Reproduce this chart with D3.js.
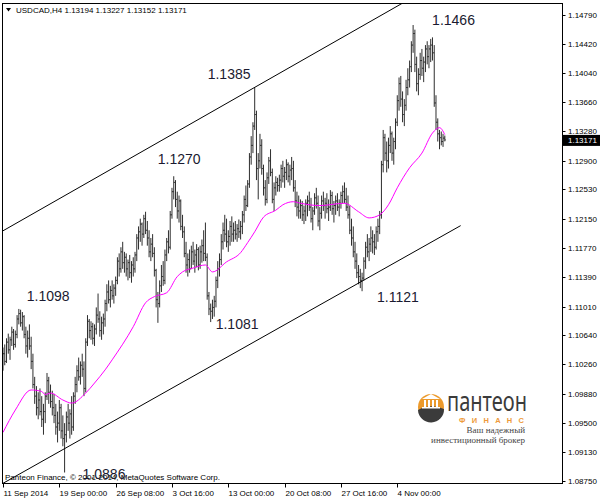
<!DOCTYPE html>
<html><head><meta charset="utf-8">
<script src="https://cdn.jsdelivr.net/npm/d3@7"></script>
<style>body{margin:0;background:#fff}svg{display:block}</style>
</head><body>
<svg id="c" width="600" height="500"></svg>
<script>
// ---------- DATA ----------
const opens = [1.1035,1.1040,1.1030,1.1055,1.1045,1.1058,1.1068,1.1052,1.1065,1.1085,1.1092,1.1080,1.1088,1.1065,1.1050,1.1060,1.1050,1.1030,1.1000,1.0985,
1.0970,1.0980,1.0965,1.0955,1.0965,1.0985,1.1005,1.0990,1.0978,1.0970,1.0960,1.0945,1.0950,1.0970,1.0940,1.0930,1.0935,1.0958,1.0950,1.0962,
1.0945,1.0985,1.1000,1.1018,1.1010,1.1025,1.1020,1.0995,1.1055,1.1082,1.1070,1.1075,1.1060,1.1072,1.1090,1.1085,1.1070,1.1080,1.1085,1.1105,
1.1120,1.1110,1.1122,1.1115,1.1125,1.1135,1.1160,1.1150,1.1172,1.1158,1.1165,1.1150,1.1158,1.1145,1.1155,1.1150,1.1168,1.1190,1.1198,1.1208,
1.1195,1.1215,1.1200,1.1190,1.1172,1.1182,1.1170,1.1148,1.1110,1.1105,1.1128,1.1140,1.1135,1.1168,1.1185,1.1178,1.1220,1.1250,1.1262,1.1240,
1.1225,1.1238,1.1205,1.1198,1.1170,1.1155,1.1162,1.1150,1.1172,1.1160,1.1168,1.1175,1.1155,1.1172,1.1180,1.1170,1.1165,1.1115,1.1098,1.1095,
1.1100,1.1108,1.1135,1.1150,1.1162,1.1185,1.1200,1.1195,1.1185,1.1192,1.1205,1.1195,1.1200,1.1195,1.1202,1.1198,1.1205,1.1220,1.1240,1.1232,
1.1260,1.1295,1.1310,1.1335,1.1350,1.1280,1.1290,1.1310,1.1280,1.1255,1.1240,1.1268,1.1290,1.1275,1.1240,1.1255,1.1262,1.1258,1.1265,1.1280,
1.1270,1.1275,1.1285,1.1270,1.1278,1.1280,1.1255,1.1238,1.1230,1.1225,1.1232,1.1220,1.1225,1.1235,1.1238,1.1230,1.1215,1.1225,1.1242,1.1235,
1.1212,1.1222,1.1238,1.1232,1.1235,1.1228,1.1230,1.1245,1.1228,1.1232,1.1238,1.1230,1.1235,1.1245,1.1250,1.1240,1.1230,1.1220,1.1200,1.1190,
1.1172,1.1160,1.1145,1.1140,1.1135,1.1138,1.1160,1.1178,1.1172,1.1182,1.1190,1.1185,1.1178,1.1198,1.1205,1.1220,1.1285,1.1320,1.1300,1.1290,
1.1310,1.1325,1.1300,1.1315,1.1340,1.1368,1.1390,1.1370,1.1350,1.1362,1.1385,1.1395,1.1412,1.1440,1.1455,1.1415,1.1390,1.1402,1.1420,1.1410,
1.1418,1.1435,1.1425,1.1435,1.1440,1.1430,1.1365,1.1340,1.1325,1.1320,1.1315,1.13194];
const highs = [1.1048,1.1052,1.1060,1.1066,1.1062,1.1075,1.1072,1.1070,1.1090,1.1098,1.1097,1.1094,1.1090,1.1075,1.1070,1.1078,1.1062,1.1040,1.1010,1.0998,
1.0990,1.0995,1.0985,1.0975,1.0990,1.1015,1.1010,1.1000,1.0992,1.0988,1.0975,1.0965,1.0980,1.0975,1.0960,1.0950,1.0965,1.0975,1.0968,1.0985,
1.0990,1.1010,1.1025,1.1035,1.1030,1.1040,1.1030,1.1060,1.1090,1.1085,1.1082,1.1080,1.1078,1.1100,1.1118,1.1095,1.1088,1.1092,1.1110,1.1130,
1.1135,1.1128,1.1135,1.1130,1.1140,1.1165,1.1170,1.1178,1.1185,1.1172,1.1170,1.1162,1.1168,1.1160,1.1165,1.1172,1.1195,1.1205,1.1215,1.1210,
1.1220,1.1224,1.1212,1.1200,1.1190,1.1195,1.1178,1.1150,1.1120,1.1135,1.1155,1.1160,1.1175,1.1190,1.1200,1.1225,1.1255,1.1270,1.1265,1.1250,
1.1245,1.1240,1.1220,1.1205,1.1185,1.1170,1.1175,1.1180,1.1185,1.1175,1.1182,1.1178,1.1180,1.1188,1.1200,1.1210,1.1170,1.1120,1.1105,1.1110,
1.1115,1.1140,1.1160,1.1170,1.1195,1.1210,1.1220,1.1215,1.1200,1.1212,1.1218,1.1210,1.1212,1.1208,1.1214,1.1212,1.1225,1.1245,1.1258,1.1265,
1.1300,1.1322,1.1340,1.1385,1.1355,1.1300,1.1325,1.1318,1.1285,1.1265,1.1275,1.1295,1.1305,1.1280,1.1262,1.1270,1.1268,1.1272,1.1285,1.1290,
1.1282,1.1292,1.1288,1.1285,1.1295,1.1290,1.1265,1.1250,1.1245,1.1240,1.1238,1.1232,1.1240,1.1245,1.1250,1.1242,1.1230,1.1248,1.1255,1.1245,
1.1230,1.1245,1.1250,1.1242,1.1248,1.1240,1.1252,1.1250,1.1238,1.1245,1.1248,1.1240,1.1250,1.1258,1.1262,1.1255,1.1245,1.1232,1.1215,1.1205,
1.1185,1.1170,1.1155,1.1150,1.1145,1.1165,1.1185,1.1195,1.1190,1.1205,1.1200,1.1195,1.1205,1.1215,1.1225,1.1290,1.1330,1.1325,1.1315,1.1320,
1.1335,1.1328,1.1320,1.1345,1.1375,1.1398,1.1400,1.1380,1.1370,1.1395,1.1410,1.1420,1.1445,1.1466,1.1460,1.1425,1.1410,1.1430,1.1435,1.1425,
1.1440,1.1445,1.1440,1.1448,1.1450,1.1440,1.1375,1.1345,1.1330,1.1328,1.1325,1.13227];
const lows = [1.1018,1.1025,1.1028,1.1040,1.1032,1.1050,1.1045,1.1048,1.1060,1.1078,1.1075,1.1070,1.1060,1.1040,1.1035,1.1045,1.1020,1.0995,1.0975,1.0960,
1.0955,1.0960,1.0945,1.0935,1.0950,1.0980,1.0975,1.0970,1.0960,1.0950,1.0935,1.0925,1.0940,1.0930,1.0920,1.0886,1.0925,1.0940,1.0930,1.0935,
1.0940,1.0975,1.0990,1.1005,1.1000,1.1010,1.0985,1.0990,1.1050,1.1060,1.1058,1.1052,1.1050,1.1065,1.1080,1.1062,1.1058,1.1065,1.1075,1.1095,
1.1105,1.1100,1.1110,1.1105,1.1115,1.1130,1.1140,1.1145,1.1150,1.1145,1.1140,1.1135,1.1138,1.1132,1.1140,1.1145,1.1160,1.1175,1.1185,1.1180,
1.1190,1.1195,1.1180,1.1165,1.1160,1.1165,1.1140,1.1100,1.1080,1.1100,1.1120,1.1128,1.1130,1.1160,1.1170,1.1175,1.1215,1.1240,1.1230,1.1215,
1.1210,1.1200,1.1190,1.1165,1.1145,1.1140,1.1145,1.1150,1.1155,1.1145,1.1152,1.1148,1.1150,1.1158,1.1160,1.1160,1.1110,1.1090,1.1081,1.1085,
1.1088,1.1100,1.1125,1.1140,1.1155,1.1175,1.1185,1.1178,1.1172,1.1180,1.1185,1.1185,1.1188,1.1185,1.1190,1.1188,1.1195,1.1210,1.1225,1.1230,
1.1255,1.1285,1.1300,1.1330,1.1265,1.1240,1.1280,1.1272,1.1245,1.1232,1.1235,1.1260,1.1270,1.1235,1.1225,1.1245,1.1250,1.1250,1.1255,1.1262,
1.1255,1.1265,1.1262,1.1258,1.1265,1.1250,1.1230,1.1218,1.1215,1.1215,1.1212,1.1208,1.1212,1.1218,1.1225,1.1210,1.1200,1.1220,1.1228,1.1205,
1.1200,1.1215,1.1225,1.1215,1.1222,1.1212,1.1225,1.1220,1.1210,1.1220,1.1225,1.1218,1.1228,1.1235,1.1235,1.1225,1.1215,1.1195,1.1180,1.1165,
1.1150,1.1138,1.1130,1.1125,1.1121,1.1135,1.1150,1.1165,1.1160,1.1172,1.1170,1.1168,1.1175,1.1185,1.1195,1.1215,1.1275,1.1290,1.1275,1.1280,
1.1300,1.1290,1.1285,1.1305,1.1335,1.1355,1.1360,1.1340,1.1335,1.1355,1.1375,1.1385,1.1405,1.1430,1.1405,1.1380,1.1375,1.1395,1.1400,1.1392,
1.1405,1.1415,1.1410,1.1418,1.1420,1.1360,1.1330,1.1315,1.1305,1.1310,1.1308,1.13152];
const closes = opens.slice(1).concat([1.13171]);

// moving average (magenta) at these bars
const maBars = [0,7,16,22,24,27,34,39,47,52,58,62,74,81,86,93,99,102,108,115,119,127,135,139,143,148,155,159,165,169,180,194,202,208,214,219,224,231,238,244,248,251];
const maValues = [1.0938,1.0967,1.0993,1.0991,1.0987,1.0989,1.0980,1.0976,1.0989,1.1002,1.1019,1.1032,1.1075,1.1106,1.1114,1.1119,1.1140,1.1146,1.1151,1.1155,1.1146,1.1159,1.1171,1.1184,1.1198,1.1217,1.1226,1.1233,1.1237,1.1235,1.1232,1.1235,1.1224,1.1216,1.1220,1.1233,1.1255,1.1281,1.1300,1.1326,1.1333,1.1324];

// trend channel (bar index, price)
const upperChannelBars = [-1, 229];
const upperChannelPrices = [1.1198, 1.1497];
const lowerChannelBars = [0, 260];
const lowerChannelPrices = [1.0872, 1.1206];

const yTicks = [1.14790,1.14420,1.14040,1.13660,1.13280,1.12900,1.12530,1.12150,1.11770,1.11390,1.11010,1.10640,1.10260,1.09880,1.09500,1.09130,1.08750];
const xTickBars = [0,32,64,96,128,160,192,224];
const xTickLabels = ["11 Sep 2014","19 Sep 00:00","26 Sep 08:00","3 Oct 16:00","13 Oct 00:00","20 Oct 08:00","27 Oct 16:00","4 Nov 00:00"];

const annotBars = [233,143,97,9,118,204,35];
const annotTexts = ["1.1466","1.1385","1.1270","1.1098","1.1081","1.1121","1.0886"];
const annotAtHigh = [true,true,true,true,false,false,false];

const titleText = "USDCAD,H4  1.13194 1.13227 1.13152 1.13171";
const lastPrice = 1.13171;
const copyright = "Panteon Finance, © 2001-2014, MetaQuotes Software Corp.";

// ---------- LAYOUT ----------
const annotDx = [19,-47,-16,8,5,15,18];
const annotDy = [-5,-13,-17,-13,2,6,2];
const plot = {left:2.5, top:3.5, right:562.5, bottom:483.5};

const svg = d3.select("#c");
const x = d3.scaleLinear().domain([0, 251]).range([3, 444.8]);
const y = d3.scaleLinear().domain([1.0875, 1.1479]).range([481, 15]);
const FONT = "'Liberation Sans', Arial, sans-serif";

svg.append("defs").append("clipPath").attr("id","clip")
  .append("rect").attr("x",plot.left).attr("y",plot.top)
  .attr("width",plot.right-plot.left).attr("height",plot.bottom-plot.top);

const g = svg.append("g").attr("clip-path","url(#clip)");

// bars
const idx = d3.range(highs.length);
const bars = g.append("g").attr("stroke","#2e2e2e").attr("stroke-width",1);
bars.selectAll("line.hl").data(idx).join("line").attr("class","hl")
  .attr("x1",i=>x(i)).attr("x2",i=>x(i)).attr("y1",i=>y(highs[i])).attr("y2",i=>y(lows[i]));
bars.selectAll("line.o").data(idx).join("line").attr("class","o")
  .attr("x1",i=>x(i)-1).attr("x2",i=>x(i)).attr("y1",i=>y(opens[i])).attr("y2",i=>y(opens[i]));
bars.selectAll("line.c").data(idx).join("line").attr("class","c")
  .attr("x1",i=>x(i)).attr("x2",i=>x(i)+1).attr("y1",i=>y(closes[i])).attr("y2",i=>y(closes[i]));

// MA
const maPts = maBars.map((b,k)=>[b, maValues[k]]);
g.append("path").datum(maPts)
  .attr("d", d3.line().x(d=>x(d[0])).y(d=>y(d[1])).curve(d3.curveMonotoneX))
  .attr("fill","none").attr("stroke","#ff00ff").attr("stroke-width",1);

// channel
[[upperChannelBars,upperChannelPrices],[lowerChannelBars,lowerChannelPrices]].forEach(([b,p])=>{
  g.append("line").attr("x1",x(b[0])).attr("y1",y(p[0])).attr("x2",x(b[1])).attr("y2",y(p[1]))
   .attr("stroke","#000").attr("stroke-width",1);
});

// frame
svg.append("rect").attr("x",plot.left).attr("y",plot.top)
  .attr("width",plot.right-plot.left).attr("height",plot.bottom-plot.top)
  .attr("fill","none").attr("stroke","#000").attr("stroke-width",1);

// y axis (right)
const ya = svg.append("g");
yTicks.forEach(v=>{
  const yy = Math.round(y(v))+0.5;
  ya.append("line").attr("x1",plot.right).attr("x2",plot.right+3).attr("y1",yy).attr("y2",yy).attr("stroke","#000");
  ya.append("text").attr("x",568).attr("y",yy).attr("dy","0.35em")
    .attr("font-family",FONT).attr("font-size",8).attr("fill","#000").text(v.toFixed(5));
});
// current price box
const yl = y(lastPrice);
svg.append("rect").attr("x",563).attr("y",yl-5).attr("width",37).attr("height",11).attr("fill","#000");
svg.append("text").attr("x",568).attr("y",yl).attr("dy","0.38em").attr("font-family",FONT)
  .attr("font-size",8).attr("fill","#fff").text(lastPrice.toFixed(5));

// x axis
xTickBars.forEach((b,k)=>{
  const xx = Math.round(x(b))+0.5;
  svg.append("line").attr("x1",xx).attr("x2",xx).attr("y1",plot.bottom).attr("y2",plot.bottom+4).attr("stroke","#000");
  svg.append("text").attr("x",xx).attr("y",493).attr("dy","0.35em").attr("font-family",FONT)
    .attr("font-size",8).attr("fill","#000").text(xTickLabels[k]);
});

// title
svg.append("path").attr("d","M6,8 L11,8 L8.5,11.5 Z").attr("fill","#000");
svg.append("text").attr("x",16).attr("y",10).attr("dy","0.35em").attr("font-family",FONT)
  .attr("font-size",8).attr("fill","#000").text(titleText);

// copyright
svg.append("text").attr("x",5).attr("y",477).attr("dy","0.35em").attr("font-family",FONT)
  .attr("font-size",8).attr("fill","#000").text(copyright);

// annotations
annotBars.forEach((b,k)=>{
  const v = annotAtHigh[k] ? highs[b] : lows[b];
  svg.append("text").attr("x",x(b)+annotDx[k]).attr("y",y(v)+annotDy[k]).attr("dy","0.35em")
    .attr("font-family",FONT).attr("font-size",14).attr("fill","#1a1a30").text(annotTexts[k]);
});

// logo
const lg = svg.append("g");
lg.append("circle").attr("cx",431).attr("cy",407).attr("r",13).attr("fill","#ec9a2c");
lg.append("path").attr("d","M418,410 Q431,403 444,409 A13,13 0 0 1 418,410 Z").attr("fill","#3b3b3b");
lg.append("path").attr("d","M422,399 L440,399 L431,394 Z").attr("fill","#fff");
[424,428,432,436].forEach(cx=>lg.append("rect").attr("x",cx).attr("y",400).attr("width",2).attr("height",7).attr("fill","#fff"));
lg.append("rect").attr("x",422).attr("y",407).attr("width",18).attr("height",1.5).attr("fill","#fff");
lg.append("text").attr("x",447).attr("y",411).attr("font-family","'Noto Sans', sans-serif").attr("font-size",27)
  .attr("textLength",80).attr("lengthAdjust","spacingAndGlyphs").attr("fill","#3b3b3b").text("пантеон");
lg.append("text").attr("x",459).attr("y",422.5).attr("font-family",FONT).attr("font-size",7.5).attr("font-weight","bold")
  .attr("textLength",65).attr("fill","#ee9a3a").text("ФИНАНС");
lg.append("text").attr("x",525).attr("y",433).attr("text-anchor","end").attr("font-family","'Liberation Serif', serif")
  .attr("font-size",9).attr("fill","#444").text("Ваш надежный");
lg.append("text").attr("x",525).attr("y",443).attr("text-anchor","end").attr("font-family","'Liberation Serif', serif")
  .attr("font-size",9).attr("fill","#444").text("инвестиционный брокер");
</script>
</body></html>
